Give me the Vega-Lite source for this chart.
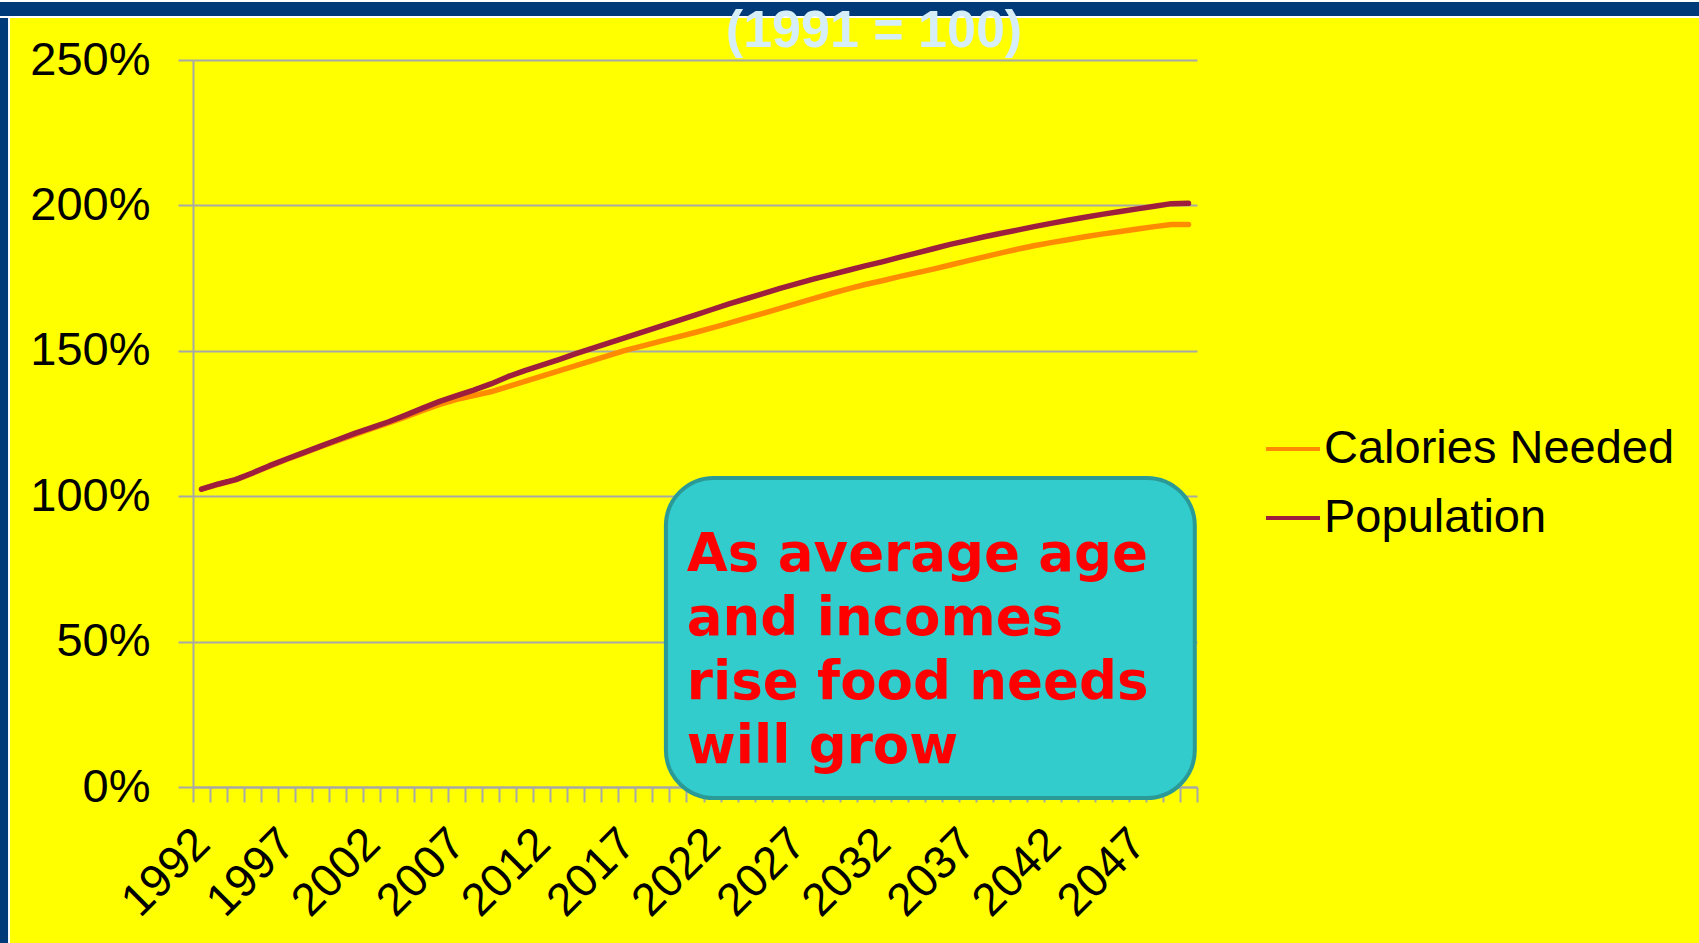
{
  "$schema": "https://vega.github.io/schema/vega-lite/v6.json",
  "width": 1004,
  "height": 727,
  "autosize": {"type": "none"},
  "padding": {"left": 193, "top": 60, "right": 502, "bottom": 156},
  "background": "#FFFF00",
  "config": {
    "view": {"stroke": null},
    "font": "Liberation Sans"
  },
  "title": {
    "text": "(1991 = 100)",
    "font": "Liberation Sans",
    "fontSize": 52,
    "fontWeight": "bold",
    "color": "#D5EEF8",
    "anchor": "middle",
    "frame": "group",
    "dx": 179,
    "dy": 58,
    "offset": 0
  },
  "datasets": {
    "series": [
      {"year": 1992, "series": "Calories Needed", "value": 102.4},
      {"year": 1993, "series": "Calories Needed", "value": 104.1},
      {"year": 1994, "series": "Calories Needed", "value": 105.6},
      {"year": 1995, "series": "Calories Needed", "value": 107.9},
      {"year": 1996, "series": "Calories Needed", "value": 110.3},
      {"year": 1997, "series": "Calories Needed", "value": 112.6},
      {"year": 1998, "series": "Calories Needed", "value": 114.8},
      {"year": 1999, "series": "Calories Needed", "value": 117.0},
      {"year": 2000, "series": "Calories Needed", "value": 119.1},
      {"year": 2001, "series": "Calories Needed", "value": 121.2},
      {"year": 2002, "series": "Calories Needed", "value": 123.2},
      {"year": 2003, "series": "Calories Needed", "value": 125.2},
      {"year": 2004, "series": "Calories Needed", "value": 127.3},
      {"year": 2005, "series": "Calories Needed", "value": 129.5},
      {"year": 2006, "series": "Calories Needed", "value": 131.6},
      {"year": 2007, "series": "Calories Needed", "value": 133.3},
      {"year": 2008, "series": "Calories Needed", "value": 134.6},
      {"year": 2009, "series": "Calories Needed", "value": 135.9},
      {"year": 2010, "series": "Calories Needed", "value": 137.7},
      {"year": 2011, "series": "Calories Needed", "value": 139.5},
      {"year": 2012, "series": "Calories Needed", "value": 141.3},
      {"year": 2013, "series": "Calories Needed", "value": 143.1},
      {"year": 2014, "series": "Calories Needed", "value": 144.9},
      {"year": 2015, "series": "Calories Needed", "value": 146.7},
      {"year": 2016, "series": "Calories Needed", "value": 148.5},
      {"year": 2017, "series": "Calories Needed", "value": 150.3},
      {"year": 2018, "series": "Calories Needed", "value": 151.8},
      {"year": 2019, "series": "Calories Needed", "value": 153.3},
      {"year": 2020, "series": "Calories Needed", "value": 154.8},
      {"year": 2021, "series": "Calories Needed", "value": 156.3},
      {"year": 2022, "series": "Calories Needed", "value": 157.9},
      {"year": 2023, "series": "Calories Needed", "value": 159.5},
      {"year": 2024, "series": "Calories Needed", "value": 161.2},
      {"year": 2025, "series": "Calories Needed", "value": 162.9},
      {"year": 2026, "series": "Calories Needed", "value": 164.6},
      {"year": 2027, "series": "Calories Needed", "value": 166.3},
      {"year": 2028, "series": "Calories Needed", "value": 168.0},
      {"year": 2029, "series": "Calories Needed", "value": 169.7},
      {"year": 2030, "series": "Calories Needed", "value": 171.3},
      {"year": 2031, "series": "Calories Needed", "value": 172.8},
      {"year": 2032, "series": "Calories Needed", "value": 174.1},
      {"year": 2033, "series": "Calories Needed", "value": 175.5},
      {"year": 2034, "series": "Calories Needed", "value": 176.8},
      {"year": 2035, "series": "Calories Needed", "value": 178.1},
      {"year": 2036, "series": "Calories Needed", "value": 179.5},
      {"year": 2037, "series": "Calories Needed", "value": 180.9},
      {"year": 2038, "series": "Calories Needed", "value": 182.3},
      {"year": 2039, "series": "Calories Needed", "value": 183.7},
      {"year": 2040, "series": "Calories Needed", "value": 185.0},
      {"year": 2041, "series": "Calories Needed", "value": 186.2},
      {"year": 2042, "series": "Calories Needed", "value": 187.3},
      {"year": 2043, "series": "Calories Needed", "value": 188.3},
      {"year": 2044, "series": "Calories Needed", "value": 189.3},
      {"year": 2045, "series": "Calories Needed", "value": 190.2},
      {"year": 2046, "series": "Calories Needed", "value": 191.0},
      {"year": 2047, "series": "Calories Needed", "value": 191.9},
      {"year": 2048, "series": "Calories Needed", "value": 192.7},
      {"year": 2049, "series": "Calories Needed", "value": 193.4},
      {"year": 2050, "series": "Calories Needed", "value": 193.4},
      {"year": 1992, "series": "Population", "value": 102.4},
      {"year": 1993, "series": "Population", "value": 104.2},
      {"year": 1994, "series": "Population", "value": 105.7},
      {"year": 1995, "series": "Population", "value": 108.0},
      {"year": 1996, "series": "Population", "value": 110.5},
      {"year": 1997, "series": "Population", "value": 112.8},
      {"year": 1998, "series": "Population", "value": 115.0},
      {"year": 1999, "series": "Population", "value": 117.2},
      {"year": 2000, "series": "Population", "value": 119.4},
      {"year": 2001, "series": "Population", "value": 121.6},
      {"year": 2002, "series": "Population", "value": 123.6},
      {"year": 2003, "series": "Population", "value": 125.6},
      {"year": 2004, "series": "Population", "value": 127.9},
      {"year": 2005, "series": "Population", "value": 130.3},
      {"year": 2006, "series": "Population", "value": 132.6},
      {"year": 2007, "series": "Population", "value": 134.6},
      {"year": 2008, "series": "Population", "value": 136.5},
      {"year": 2009, "series": "Population", "value": 138.6},
      {"year": 2010, "series": "Population", "value": 141.1},
      {"year": 2011, "series": "Population", "value": 143.2},
      {"year": 2012, "series": "Population", "value": 145.1},
      {"year": 2013, "series": "Population", "value": 147.0},
      {"year": 2014, "series": "Population", "value": 149.0},
      {"year": 2015, "series": "Population", "value": 150.9},
      {"year": 2016, "series": "Population", "value": 152.8},
      {"year": 2017, "series": "Population", "value": 154.7},
      {"year": 2018, "series": "Population", "value": 156.6},
      {"year": 2019, "series": "Population", "value": 158.5},
      {"year": 2020, "series": "Population", "value": 160.4},
      {"year": 2021, "series": "Population", "value": 162.3},
      {"year": 2022, "series": "Population", "value": 164.2},
      {"year": 2023, "series": "Population", "value": 166.1},
      {"year": 2024, "series": "Population", "value": 167.9},
      {"year": 2025, "series": "Population", "value": 169.7},
      {"year": 2026, "series": "Population", "value": 171.5},
      {"year": 2027, "series": "Population", "value": 173.1},
      {"year": 2028, "series": "Population", "value": 174.7},
      {"year": 2029, "series": "Population", "value": 176.2},
      {"year": 2030, "series": "Population", "value": 177.7},
      {"year": 2031, "series": "Population", "value": 179.2},
      {"year": 2032, "series": "Population", "value": 180.6},
      {"year": 2033, "series": "Population", "value": 182.1},
      {"year": 2034, "series": "Population", "value": 183.6},
      {"year": 2035, "series": "Population", "value": 185.1},
      {"year": 2036, "series": "Population", "value": 186.6},
      {"year": 2037, "series": "Population", "value": 187.9},
      {"year": 2038, "series": "Population", "value": 189.2},
      {"year": 2039, "series": "Population", "value": 190.4},
      {"year": 2040, "series": "Population", "value": 191.6},
      {"year": 2041, "series": "Population", "value": 192.8},
      {"year": 2042, "series": "Population", "value": 193.9},
      {"year": 2043, "series": "Population", "value": 195.0},
      {"year": 2044, "series": "Population", "value": 196.0},
      {"year": 2045, "series": "Population", "value": 197.0},
      {"year": 2046, "series": "Population", "value": 197.9},
      {"year": 2047, "series": "Population", "value": 198.8},
      {"year": 2048, "series": "Population", "value": 199.7},
      {"year": 2049, "series": "Population", "value": 200.6},
      {"year": 2050, "series": "Population", "value": 200.7}
    ]
  },
  "layer": [
    {
      "data": {"name": "series"},
      "mark": {"type": "line", "strokeWidth": 5.5, "strokeCap": "round", "strokeJoin": "round"},
      "encoding": {
        "x": {
          "field": "year",
          "type": "quantitative",
          "scale": {"domain": [1991.5, 2050.5], "nice": false, "zero": false},
          "axis": {
            "title": null,
            "tickCount": 200,
            "values": [1991.5, 1992.5, 1993.5, 1994.5, 1995.5, 1996.5, 1997.5, 1998.5, 1999.5, 2000.5, 2001.5, 2002.5, 2003.5, 2004.5, 2005.5, 2006.5, 2007.5, 2008.5, 2009.5, 2010.5, 2011.5, 2012.5, 2013.5, 2014.5, 2015.5, 2016.5, 2017.5, 2018.5, 2019.5, 2020.5, 2021.5, 2022.5, 2023.5, 2024.5, 2025.5, 2026.5, 2027.5, 2028.5, 2029.5, 2030.5, 2031.5, 2032.5, 2033.5, 2034.5, 2035.5, 2036.5, 2037.5, 2038.5, 2039.5, 2040.5, 2041.5, 2042.5, 2043.5, 2044.5, 2045.5, 2046.5, 2047.5, 2048.5, 2049.5, 2050.5],
            "labelExpr": "((datum.value - 1991.5) % 5 == 0 && datum.value < 2050) ? ('' + (datum.value + 0.5)) : ''",
            "labelOverlap": false,
            "labelFlush": false,
            "labelBound": false,
            "labelAngle": -45,
            "labelAlign": "right",
            "labelBaseline": "middle",
            "labelOffset": 9,
            "labelFont": "Liberation Sans",
            "labelFontSize": 46,
            "labelColor": "#000000",
            "labelPadding": 34,
            "tickSize": 15,
            "tickWidth": 2,
            "tickColor": "#A8A8A8",
            "domainColor": "#A8A8A8",
            "domainWidth": 2,
            "grid": false
          }
        },
        "y": {
          "field": "value",
          "type": "quantitative",
          "scale": {"domain": [0, 250], "nice": false},
          "axis": {
            "title": null,
            "values": [0, 50, 100, 150, 200, 250],
            "labelExpr": "datum.value + '%'",
            "labelFont": "Liberation Sans",
            "labelFontSize": 47,
            "labelColor": "#000000",
            "labelPadding": 28,
            "tickSize": 15,
            "tickWidth": 2,
            "tickColor": "#A8A8A8",
            "domainColor": "#A8A8A8",
            "domainWidth": 2,
            "grid": true,
            "gridColor": "#A8A8A8",
            "gridWidth": 2
          }
        },
        "color": {
          "field": "series",
          "type": "nominal",
          "scale": {"domain": ["Calories Needed", "Population"], "range": ["#FF8C00", "#9E1F3D"]},
          "legend": {
            "title": null,
            "orient": "none",
            "legendX": 1071,
            "legendY": 360,
            "padding": 0,
            "symbolType": "stroke",
            "symbolSize": 2916,
            "symbolStrokeWidth": 4,
            "labelFont": "Liberation Sans",
            "labelFontSize": 47,
            "labelColor": "#000000",
            "labelOffset": 2,
            "rowPadding": 17,
            "labelLimit": 500
          }
        }
      }
    },
    {
      "data": {"values": [{}]},
      "mark": {"type": "rect", "fill": "#33CCCC", "stroke": "#2B9A96", "strokeWidth": 4, "cornerRadius": 48},
      "encoding": {
        "x": {"datum": 2019.29, "type": "quantitative"},
        "x2": {"datum": 2050.37},
        "y": {"datum": 106.3, "type": "quantitative"},
        "y2": {"datum": -3.8}
      }
    },
    {
      "data": {"values": [{}]},
      "mark": {
        "type": "text",
        "text": ["As average age", "and incomes", "rise food needs", "will grow"],
        "font": "DejaVu Sans",
        "fontWeight": "bold",
        "fontSize": 53,
        "lineHeight": 64,
        "color": "#FF0000",
        "align": "left",
        "baseline": "alphabetic"
      },
      "encoding": {
        "x": {"datum": 2020.52, "type": "quantitative"},
        "y": {"datum": 74.3, "type": "quantitative"}
      }
    },
    {
      "data": {"values": [{}]},
      "mark": {"type": "rect", "fill": "#003A78", "stroke": "#FFFFFF", "strokeWidth": 2},
      "encoding": {
        "x": {"datum": 1975, "type": "quantitative"},
        "x2": {"datum": 2090},
        "y": {"datum": 270.3, "type": "quantitative"},
        "y2": {"datum": 264.8}
      }
    },
    {
      "data": {"values": [{}]},
      "mark": {"type": "rect", "fill": "#003A78", "stroke": "#FFFFFF", "strokeWidth": 2},
      "encoding": {
        "x": {"datum": 1978.9, "type": "quantitative"},
        "x2": {"datum": 1980.69},
        "y": {"datum": 264.8, "type": "quantitative"},
        "y2": {"datum": -60}
      }
    }
  ]
}
